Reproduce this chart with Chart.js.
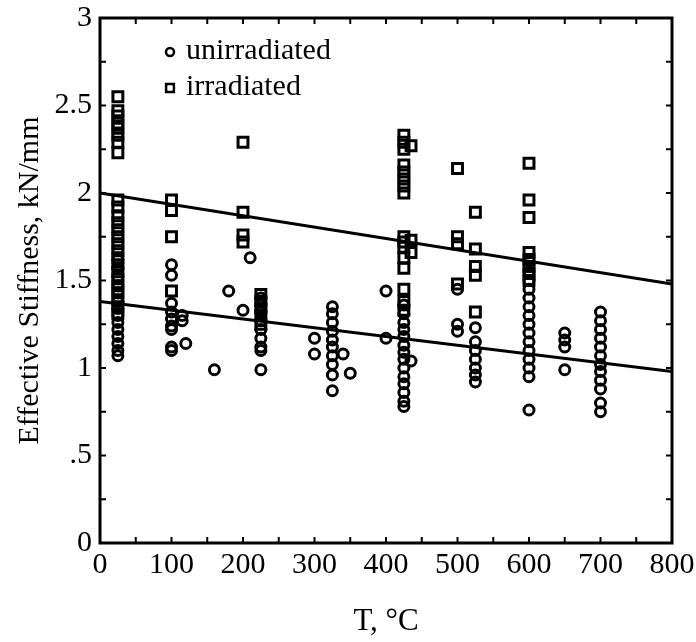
<!DOCTYPE html>
<html>
<head>
<meta charset="utf-8">
<script src="https://cdn.jsdelivr.net/npm/chart.js@4"></script>
<style>
  html, body { margin: 0; padding: 0; background: #fff; }
  #wrap { width: 696px; height: 642px; }
</style>
</head>
<body>
<div id="wrap"><canvas id="stiffness"></canvas></div>
<script>
// test temperatures (°C) and the stiffness readings (kN/mm) taken at each
const unirrTemps = [25, 100, 115, 120, 160, 180, 200, 210, 225, 300, 325, 340, 350, 400, 425, 435, 500, 525, 600, 650, 700]
const unirrStiffness = [
  [1.62, 1.57, 1.52, 1.47, 1.43, 1.38, 1.34, 1.30, 1.26, 1.22, 1.18, 1.14, 1.10, 1.07],
  [1.59, 1.53, 1.37, 1.32, 1.28, 1.24, 1.22, 1.12, 1.10],
  [1.30, 1.27],
  [1.14],
  [0.99],
  [1.44],
  [1.33],
  [1.63],
  [1.40, 1.36, 1.32, 1.27, 1.22, 1.17, 1.12, 1.10, 0.99],
  [1.17, 1.08],
  [1.35, 1.31, 1.26, 1.21, 1.16, 1.12, 1.07, 1.02, 0.96, 0.87],
  [1.08],
  [0.97],
  [1.44, 1.17],
  [1.36, 1.31, 1.26, 1.22, 1.18, 1.13, 1.09, 1.05, 1.00, 0.95, 0.91, 0.86, 0.81, 0.78],
  [1.04],
  [1.45, 1.25, 1.21],
  [1.23, 1.15, 1.10, 1.05, 1.00, 0.96, 0.92],
  [1.55, 1.50, 1.45, 1.40, 1.35, 1.30, 1.25, 1.20, 1.15, 1.10, 1.05, 1.00, 0.95, 0.76],
  [1.20, 1.16, 1.12, 0.99],
  [1.32, 1.27, 1.22, 1.17, 1.12, 1.07, 1.02, 0.98, 0.93, 0.88, 0.80, 0.75]
]

const irrTemps = [25, 100, 200, 225, 425, 435, 500, 525, 600]
const irrStiffness = [
  [2.55, 2.47, 2.44, 2.40, 2.37, 2.33, 2.29, 2.23, 1.96, 1.92, 1.87, 1.83, 1.79, 1.75, 1.71, 1.67, 1.63, 1.59, 1.55, 1.51, 1.47, 1.43, 1.39, 1.35, 1.31],
  [1.96, 1.90, 1.75, 1.44],
  [2.29, 1.89, 1.76, 1.72],
  [1.42, 1.38, 1.34, 1.30, 1.25],
  [2.33, 2.29, 2.25, 2.16, 2.12, 2.08, 2.04, 2.00, 1.75, 1.72, 1.69, 1.63, 1.57, 1.45, 1.38, 1.33],
  [2.27, 1.73, 1.66],
  [2.14, 1.75, 1.71, 1.48],
  [1.89, 1.68, 1.58, 1.53, 1.32],
  [2.17, 1.96, 1.86, 1.66, 1.62, 1.58, 1.54, 1.50]
]

// linear trend lines, end points at 0 and 800 °C
const fitTemps = [0, 800]
const unirrFit = [1.38, 0.98]
const irrFit = [2.0, 1.48]

const serif = 'Liberation Serif, Times New Roman, serif'

function toPoints (temps, groups) {
  const pts = []
  temps.forEach((t, i) => groups[i].forEach((k) => pts.push({ x: t, y: k })))
  return pts
}

function toLine (temps, values) {
  return temps.map((t, i) => ({ x: t, y: values[i] }))
}

// box round the plot with small inward ticks on all four sides
const frame = {
  id: 'frame',
  afterDatasetsDraw (chart) {
    const { ctx, chartArea: a, scales: { x, y } } = chart
    ctx.save()
    ctx.strokeStyle = '#000'
    ctx.lineWidth = 3
    ctx.strokeRect(a.left, a.top, a.right - a.left, a.bottom - a.top)
    ctx.lineWidth = 2
    ctx.beginPath()
    for (let t = 50; t < 800; t += 50) {
      const px = x.getPixelForValue(t)
      ctx.moveTo(px, a.bottom)
      ctx.lineTo(px, a.bottom - 6)
      ctx.moveTo(px, a.top)
      ctx.lineTo(px, a.top + 6)
    }
    for (let k = 0.25; k < 3; k += 0.25) {
      const py = y.getPixelForValue(k)
      ctx.moveTo(a.left, py)
      ctx.lineTo(a.left + 6, py)
      ctx.moveTo(a.right, py)
      ctx.lineTo(a.right - 6, py)
    }
    ctx.stroke()
    ctx.restore()
  }
}

// two-row key in the upper left of the plot
const insetLegend = {
  id: 'insetLegend',
  afterDraw (chart) {
    const { ctx, chartArea: a } = chart
    const rows = [
      { ds: chart.data.datasets[0], style: 'circle', radius: 4, base: a.top + 41 },
      { ds: chart.data.datasets[1], style: 'rect', radius: 5.5, base: a.top + 77 }
    ]
    ctx.save()
    ctx.font = '30px ' + serif
    ctx.textBaseline = 'alphabetic'
    rows.forEach((r) => {
      ctx.fillStyle = 'rgba(0,0,0,0)'
      ctx.strokeStyle = '#000'
      ctx.lineWidth = 2.5
      Chart.helpers.drawPoint(ctx, { pointStyle: r.style, radius: r.radius, borderWidth: 2.5 }, a.left + 70, r.base - 7)
      ctx.fillStyle = '#000'
      ctx.fillText(r.ds.label, a.left + 86, r.base)
    })
    ctx.restore()
  }
}

new Chart(document.getElementById('stiffness'), {
  type: 'scatter',
  data: {
    datasets: [
      {
        label: 'unirradiated',
        data: toPoints(unirrTemps, unirrStiffness),
        pointStyle: 'circle',
        pointRadius: 5,
        borderWidth: 3,
        borderColor: '#000',
        backgroundColor: 'rgba(0,0,0,0)'
      },
      {
        label: 'irradiated',
        data: toPoints(irrTemps, irrStiffness),
        pointStyle: 'rect',
        pointRadius: 7,
        borderWidth: 3,
        borderColor: '#000',
        backgroundColor: 'rgba(0,0,0,0)'
      },
      {
        type: 'line',
        label: 'unirradiated fit',
        data: toLine(fitTemps, unirrFit),
        borderColor: '#000',
        borderWidth: 3,
        pointRadius: 0,
        fill: false
      },
      {
        type: 'line',
        label: 'irradiated fit',
        data: toLine(fitTemps, irrFit),
        borderColor: '#000',
        borderWidth: 3,
        pointRadius: 0,
        fill: false
      }
    ]
  },
  options: {
    responsive: true,
    maintainAspectRatio: false,
    animation: false,
    layout: {
      padding: { top: 18, right: 24, left: 0, bottom: 0 }
    },
    plugins: {
      legend: { display: false },
      tooltip: { enabled: false }
    },
    scales: {
      x: {
        type: 'linear',
        min: 0,
        max: 800,
        afterFit: (scale) => {
          scale.height = 99
          scale.paddingLeft = 0
          scale.paddingRight = 0
        },
        grid: { display: false, drawTicks: false },
        border: { display: false },
        ticks: {
          stepSize: 100,
          padding: 4,
          color: '#000',
          font: { family: serif, size: 30 }
        },
        title: {
          display: true,
          text: 'T, °C',
          color: '#000',
          font: { family: serif, size: 31 },
          padding: { top: 0, bottom: 2 }
        }
      },
      y: {
        min: 0,
        max: 3,
        afterFit: (scale) => {
          scale.width = 100
          scale.paddingTop = 0
          scale.paddingBottom = 0
        },
        grid: { display: false, drawTicks: false },
        border: { display: false },
        ticks: {
          stepSize: 0.5,
          padding: 8,
          color: '#000',
          font: { family: serif, size: 30 },
          callback: (v) => (v === 0 ? '0' : String(v).replace(/^0\./, '.'))
        },
        title: {
          display: true,
          text: 'Effective Stiffness, kN/mm',
          color: '#000',
          font: { family: serif, size: 30 },
          padding: { top: 12, bottom: 0 }
        }
      }
    }
  },
  plugins: [frame, insetLegend]
})
</script>
</body>
</html>
